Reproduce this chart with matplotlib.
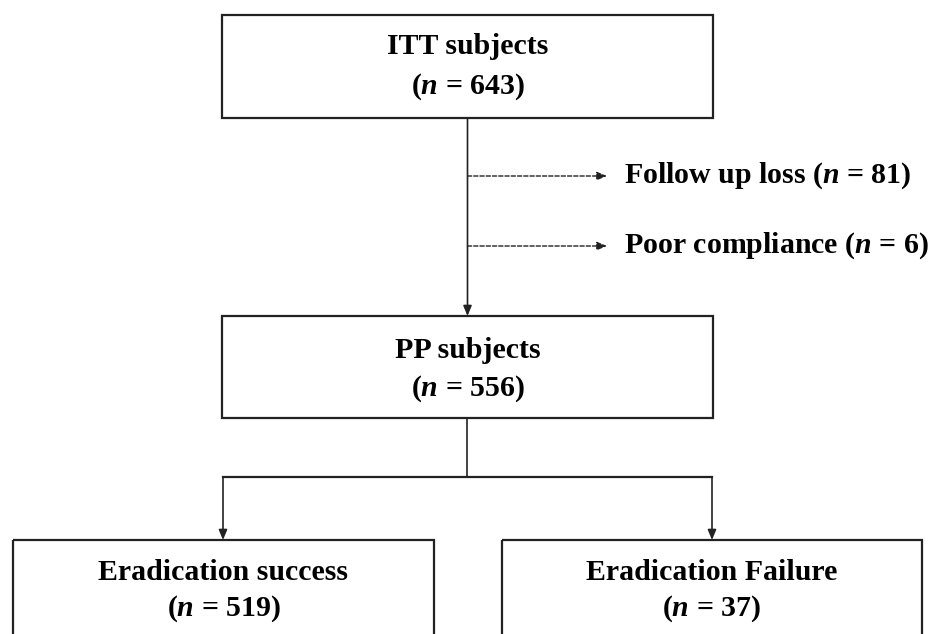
import matplotlib
matplotlib.use("Agg")
import matplotlib.pyplot as plt
from matplotlib.patches import Rectangle, FancyArrowPatch

plt.rcParams['mathtext.fontset'] = 'custom'
plt.rcParams['mathtext.rm'] = 'Liberation Serif:bold'
plt.rcParams['mathtext.it'] = 'Liberation Serif:bold:italic'
plt.rcParams['font.family'] = ['Liberation Serif']

# data
box_labels = ["ITT subjects", "PP subjects", "Eradication success", "Eradication Failure"]
box_counts = [643, 556, 519, 37]
excluded_labels = ["Follow up loss", "Poor compliance"]
excluded_counts = [81, 6]

W, H = 941, 634
fig = plt.figure(figsize=(W / 100, H / 100), dpi=100)
ax = fig.add_axes([0, 0, 1, 1])
ax.set_xlim(0, W)
ax.set_ylim(H, 0)
ax.axis('off')

LC = '#222222'
FS = 21.5

# box geometry (x0, y0, x1, y1)
boxes = [(222, 15, 713, 118), (222, 316, 713, 418), (13, 540, 434, 700), (502, 540, 922, 700)]
text_y = [(47, 87), (350, 389), (573, 609), (573, 609)]

for (x0, y0, x1, y1), lab, cnt, (ty1, ty2) in zip(boxes, box_labels, box_counts, text_y):
    ax.add_patch(Rectangle((x0, y0), x1 - x0, y1 - y0, fill=False, ec=LC, lw=1.6, clip_on=False))
    cx = (x0 + x1) / 2
    ax.text(cx, ty1, lab, ha='center', va='center', fontsize=FS, fontweight='bold', color='black')
    ax.text(cx, ty2, "(" + r"$\mathit{n}$" + f" = {cnt})", ha='center', va='center', fontsize=FS,
            fontweight='bold', color='black')

cx = 467.5
# main vertical arrow ITT -> PP
ax.add_patch(FancyArrowPatch((cx, 118), (cx, 316), arrowstyle='-|>,head_length=6,head_width=2.5',
                             color=LC, lw=1.2, shrinkA=0, shrinkB=0, mutation_scale=1))

# exclusion dashed arrows
ex_y = [176, 246]
for y, lab, cnt in zip(ex_y, excluded_labels, excluded_counts):
    ax.add_patch(FancyArrowPatch((cx, y), (607, y), arrowstyle='-|>,head_length=6,head_width=2.5',
                                 color=LC, lw=1.0, linestyle=(0, (3, 1.5)), shrinkA=0, shrinkB=0,
                                 mutation_scale=1))
    ax.text(624, y, lab + " (" + r"$\mathit{n}$" + f" = {cnt})", ha='left', va='center', fontsize=FS,
            fontweight='bold', color='black')

# PP -> branch
by = 477
ax.plot([cx, cx], [418, by], color=LC, lw=1.2)
ax.plot([223, 712], [by, by], color=LC, lw=1.6)
for bx in (223, 712):
    ax.add_patch(FancyArrowPatch((bx, by), (bx, 540), arrowstyle='-|>,head_length=6,head_width=2.5',
                                 color=LC, lw=1.2, shrinkA=0, shrinkB=0, mutation_scale=1))

fig.savefig("out.png", dpi=100, facecolor='white')
